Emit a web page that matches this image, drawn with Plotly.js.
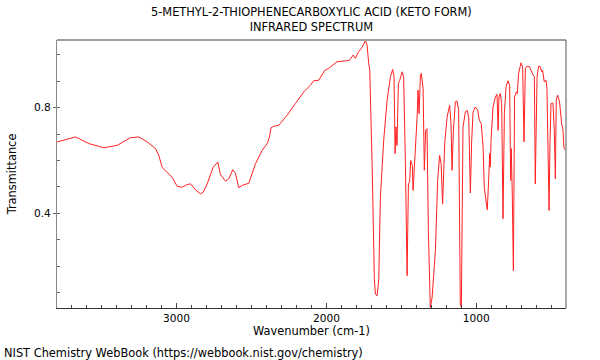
<!DOCTYPE html>
<html>
<head>
<meta charset="utf-8">
<script src="https://cdn.plot.ly/plotly-3.0.1.min.js"></script>
<style>html,body{margin:0;padding:0;background:#fff;}#chart{width:600px;height:360px;}</style>
</head>
<body>
<div id="chart"></div>
<script>
const wavenumber = [
3796,3673,3585,3485,3396,3307,3251,3195,3140,3118,3095,3062,3029,2995,2962,2929,2907,2873,2840,2822,
2795,2755,2724,2707,2673,2651,2625,2607,2585,2562,2518,2473,2429,2395,2380,2369,2351,2318,2262,2207,
2151,2107,2085,2051,2013,1985,1929,1862,1845,1822,1807,1785,1762,1740,1729,1718,1711,1695,1680,1673,
1662,1651,1640,1618,1595,1573,1558,1549,1542,1536,1529,1520,1511,1495,1485,1473,1462,1453,1445,1438,
1427,1422,1411,1395,1389,1382,1373,1367,1355,1347,1338,1329,1320,1311,1307,1295,1273,1258,1245,1235,
1225,1211,1195,1178,1169,1162,1153,1140,1129,1118,1107,1100,1093,1089,1073,1062,1051,1040,1031,1022,
1007,991,980,967,955,947,933,927,918,911,907,902,889,873,862,855,849,840,831,822,
813,802,789,778,771,767,760,753,745,733,727,718,702,691,682,673,662,645,629,613,
607,595,585,573,565,558,547,535,529,522,515,509,502,489,480,473,467,458,445,431,
422,415,405
];
const transmittance = [
0.670,0.689,0.664,0.648,0.657,0.686,0.689,0.670,0.645,0.619,0.573,0.556,0.537,0.502,0.499,0.509,0.512,0.489,0.474,0.480,
0.512,0.575,0.594,0.547,0.522,0.531,0.565,0.552,0.497,0.506,0.514,0.588,0.638,0.664,0.689,0.724,0.729,0.733,0.771,0.815,
0.859,0.884,0.901,0.903,0.939,0.948,0.973,0.977,0.979,0.998,0.986,1.011,1.027,1.054,1.036,0.967,0.940,0.580,0.150,0.095,
0.089,0.150,0.461,0.676,0.828,0.916,0.944,0.916,0.626,0.727,0.657,0.891,0.903,0.935,0.916,0.588,0.165,0.512,0.520,0.600,
0.581,0.487,0.588,0.764,0.866,0.777,0.922,0.929,0.872,0.563,0.714,0.720,0.335,0.083,0.045,0.083,0.260,0.525,0.619,0.588,
0.436,0.664,0.764,0.809,0.739,0.563,0.714,0.821,0.825,0.790,0.058,0.045,0.550,0.727,0.783,0.790,0.764,0.477,0.676,0.783,
0.802,0.790,0.752,0.739,0.651,0.499,0.436,0.414,0.525,0.626,0.575,0.676,0.802,0.840,0.850,0.714,0.840,0.853,0.815,0.380,
0.777,0.878,0.901,0.884,0.525,0.645,0.461,0.184,0.840,0.859,0.853,0.929,0.969,0.954,0.670,0.948,0.956,0.954,0.931,0.916,
0.512,0.916,0.956,0.954,0.935,0.940,0.897,0.903,0.872,0.689,0.411,0.664,0.815,0.817,0.714,0.531,0.828,0.847,0.821,0.739,
0.714,0.645,0.641
];
const xTickLabels = [1000, 2000, 3000];
const yTickLabels = [0.4, 0.8];

const font = "DejaVu Sans, sans-serif";
const trace = {
  x: wavenumber, y: transmittance, type: 'scatter', mode: 'lines',
  line: {color: '#ff2020', width: 1}, hoverinfo: 'skip'
};
const layout = {
  width: 600, height: 360,
  margin: {l: 57, r: 34, t: 40, b: 52},
  paper_bgcolor: '#fff', plot_bgcolor: '#fff',
  font: {family: font, size: 12, color: '#000'},
  showlegend: false,
  title: {text: '5-METHYL-2-THIOPHENECARBOXYLIC ACID (KETO FORM)<br>INFRARED SPECTRUM',
    font: {family: font, size: 11.4, color: '#000'}, x: 0.519, xanchor: 'center',
    yref: 'container', y: 0.955, yanchor: 'top'},
  xaxis: {
    range: [3797, 402], showgrid: false, zeroline: false,
    tickmode: 'array', tickvals: xTickLabels, ticktext: xTickLabels.map(String),
    ticks: 'inside', ticklen: 5, tickcolor: '#444',
    minor: {dtick: 100, tick0: 0, ticks: 'inside', ticklen: 3, tickcolor: '#444', showgrid: false},
    showline: true, linecolor: '#333', linewidth: 1,
    tickfont: {family: font, size: 10.6},
    title: {text: 'Wavenumber (cm-1)', font: {family: font, size: 11.4}, standoff: 2}
  },
  yaxis: {
    range: [0.043, 1.055], showgrid: false, zeroline: false,
    tickmode: 'array', tickvals: yTickLabels, ticktext: yTickLabels.map(String),
    ticks: 'outside', ticklen: 3, tickcolor: '#666',
    minor: {dtick: 0.1, tick0: 0, ticks: 'inside', ticklen: 3, tickcolor: '#666', showgrid: false},
    showline: true, linecolor: '#888', linewidth: 1,
    tickfont: {family: font, size: 10.6},
    title: {text: 'Transmittance', font: {family: font, size: 11.4}, standoff: 15}
  },
  shapes: [
    {type: 'line', xref: 'paper', yref: 'paper', x0: 0, x1: 1, y0: 1, y1: 1, line: {color: '#a0a0a0', width: 2}},
    {type: 'line', xref: 'paper', yref: 'paper', x0: 1, x1: 1, y0: 0, y1: 1, line: {color: '#555', width: 1}}
  ],
  annotations: [
    {text: 'NIST Chemistry WebBook (https://webbook.nist.gov/chemistry)', xref: 'paper', yref: 'paper',
     x: -55/509, xanchor: 'left', y: -45/268, yanchor: 'middle', showarrow: false,
     font: {family: font, size: 11.4, color: '#000'}}
  ]
};
Plotly.newPlot('chart', [trace], layout, {staticPlot: true, displayModeBar: false});
</script>
</body>
</html>
